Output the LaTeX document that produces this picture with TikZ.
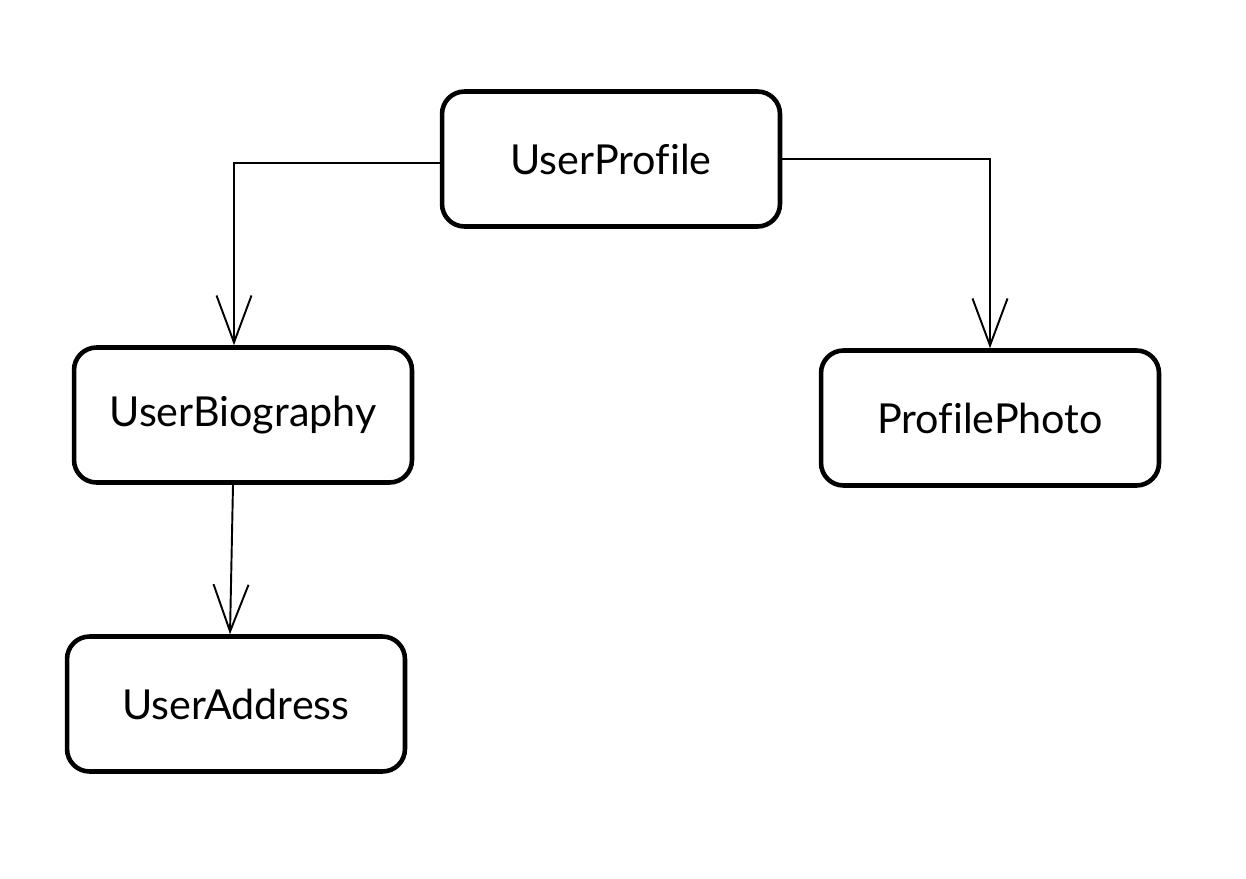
\documentclass[tikz,border=0pt]{standalone}
\usepackage{fontspec}
\setmainfont{Lato}[Ligatures=NoCommon]
\usetikzlibrary{arrows.meta}
\tikzset{
  entity/.style={draw, line width=2.6pt, rounded corners=0.45cm,
    minimum width=6.76cm, minimum height=2.7cm, font=\fontsize{23.5}{28}\selectfont},
  link/.style={line width=1.1pt, -{Straight Barb[length=0.94cm, width=0.7cm, line width=1.1pt]}}
}
\begin{document}
\begin{tikzpicture}[x=0.02cm, y=-0.02cm]
                    \useasboundingbox (0,0) rectangle (1246,878);

                    \node[entity] (profile) at (611,159) {UserProfile};
                    \node[entity] (bio) at (243,415) {UserBiography};
                    \node[entity] (photo) at (990,418) {ProfilePhoto};
                    \node[entity] (address) at (236,704) {UserAddress};

                    \draw[link] ([yshift=-0.08cm]profile.west) -| ([xshift=-0.18cm]bio.north);
                    \draw[link] (profile.east) -| (photo.north);
                    \draw[link] ([xshift=-0.2cm]bio.south) -- ([xshift=-0.12cm]address.north);
                \end{tikzpicture}
\end{document}
